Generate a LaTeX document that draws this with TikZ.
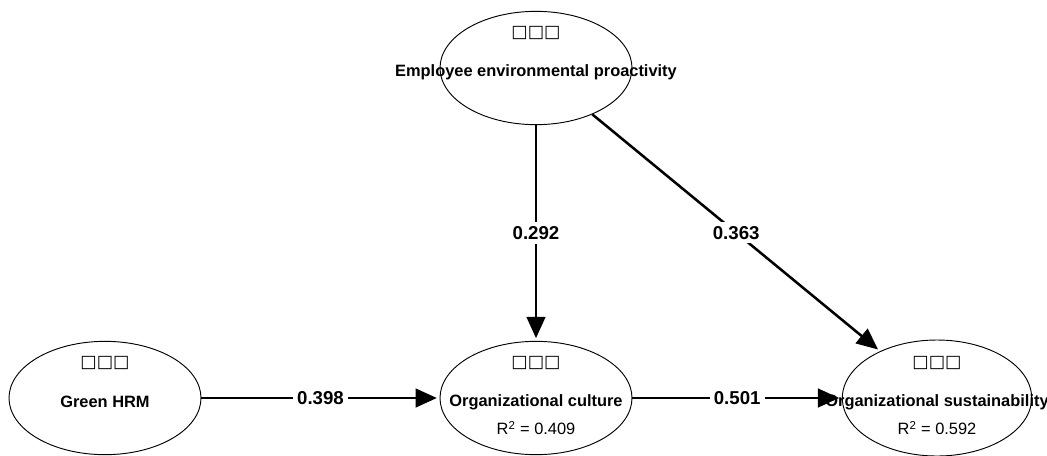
\documentclass[tikz,border=0pt]{standalone}
\usepackage{fontspec}
\setmainfont{Liberation Sans}
\newfontfamily\boxfont{DejaVu Sans}
\usetikzlibrary{shapes.geometric,arrows.meta}

\begin{document}
\begin{tikzpicture}[x=0.75pt,y=-0.75pt,
  construct/.style={ellipse, draw, line width=0.7pt, minimum width=144pt, minimum height=85pt, inner sep=0pt},
  cname/.style={font=\bfseries\fontsize{12.3}{14}\selectfont, inner sep=0pt},
  rsq/.style={font=\fontsize{12.3}{14}\selectfont, inner sep=0pt},
  tofu/.style={font=\boxfont\fontsize{13}{14}\selectfont, inner sep=0pt},
  relation/.style={line width=1.9pt, -{Triangle[length=16pt,width=14pt]}, shorten >=2pt},
  coef/.style={fill=white, font=\bfseries\fontsize{14}{16}\selectfont, inner sep=3pt}
]
\useasboundingbox (0,0) rectangle (1047,455);

% latent constructs
\node[construct] (eep) at (536,68) {};
\node[construct] (ghrm) at (105,398) {};
\node[construct] (oc) at (536,398) {};
\node[construct, minimum width=142pt, minimum height=87pt] (os) at (937,398) {};

% construct captions
\node[tofu] (eepbox) at (536,33) {□□□};
\node[cname] (eepname) at (536,72) {Employee environmental proactivity};

\node[tofu] (ghrmbox) at (105,363) {□□□};
\node[cname] (ghrmname) at (105,402) {Green HRM};

\node[tofu] (ocbox) at (536,363) {□□□};
\node[cname] (ocname) at (536,402) {Organizational culture};
\node[rsq] (ocr) at (536,428) {R\textsuperscript{2} = 0.409};

\node[tofu] (osbox) at (937,363) {□□□};
\node[cname] (osname) at (937,402) {Organizational sustainability};
\node[rsq] (osr) at (937,428) {R\textsuperscript{2} = 0.592};

% structural paths with coefficients
\draw[relation] (eep) -- node[coef] {0.292} (oc);
\draw[relation] (eep) -- node[coef] {0.363} (os);
\draw[relation] (ghrm) -- node[coef] {0.398} (oc);
\draw[relation] (oc) -- node[coef] {0.501} (os);
\end{tikzpicture}
\end{document}
